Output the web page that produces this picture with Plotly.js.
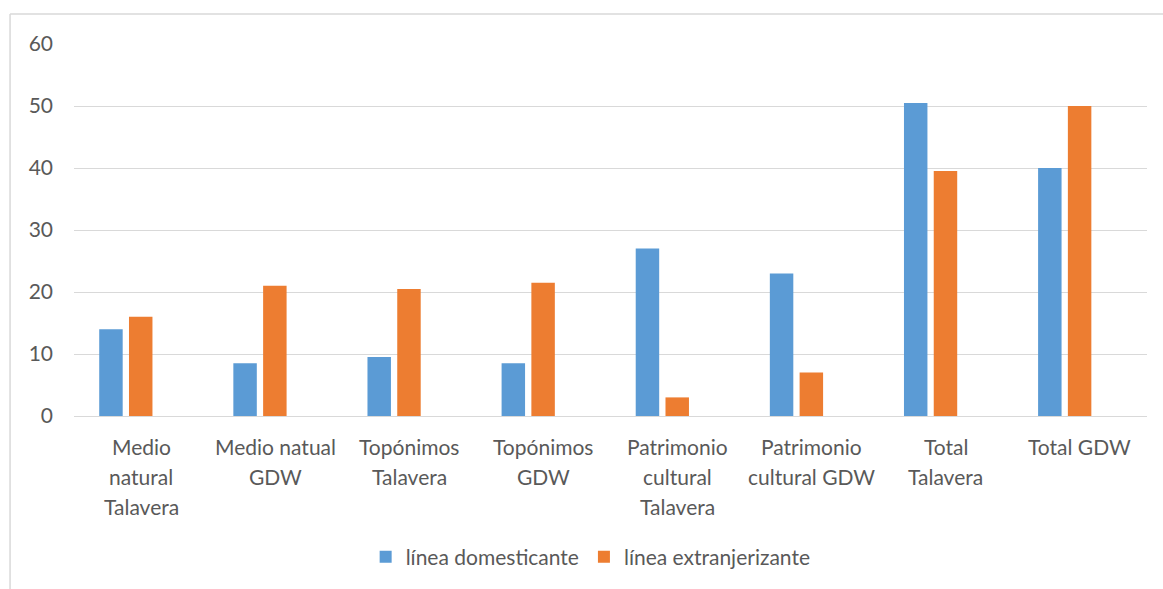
<!DOCTYPE html>
<html>
<head>
<meta charset="utf-8">
<script src="https://cdn.plot.ly/plotly-3.0.1.min.js"></script>
<style>html,body{margin:0;padding:0;background:#fff;}#chart{width:1163px;height:589px;}</style>
</head>
<body>
<div id="chart"></div>
<script>
// Categories (label lines as shown on the chart)
const categories = ["Medio natural Talavera", "Medio natual GDW", "Topónimos Talavera", "Topónimos GDW",
  "Patrimonio cultural Talavera", "Patrimonio cultural GDW", "Total Talavera", "Total GDW"];
const categoryLines = [
  ["Medio", "natural", "Talavera"],
  ["Medio natual", "GDW"],
  ["Topónimos", "Talavera"],
  ["Topónimos", "GDW"],
  ["Patrimonio", "cultural", "Talavera"],
  ["Patrimonio", "cultural GDW"],
  ["Total", "Talavera"],
  ["Total GDW"]
];
const seriesNames = ["línea domesticante", "línea extranjerizante"];
const domesticante = [14, 8.5, 9.5, 8.5, 27, 23, 50.5, 40];
const extranjerizante = [16, 21, 20.5, 21.5, 3, 7, 39.5, 50];
const yTicks = [0, 10, 20, 30, 40, 50, 60];

const FONT = "Lato, 'Open Sans', sans-serif";
const FS = 21;
const TXT = "#595959";

const traces = [
  {type: "bar", name: seriesNames[0], x: categories, y: domesticante,
   marker: {color: "#5b9bd5"}, width: 0.175, offset: -0.312, hoverinfo: "x+y"},
  {type: "bar", name: seriesNames[1], x: categories, y: extranjerizante,
   marker: {color: "#ed7d31"}, width: 0.175, offset: -0.09, hoverinfo: "x+y"}
];

const annotations = [];
categories.forEach((c, i) => {
  categoryLines[i].forEach((line, j) => {
    annotations.push({
      xref: "x", yref: "paper", x: c, y: 0, yanchor: "middle", xanchor: "center",
      yshift: -(30 + 30 * j), text: line, showarrow: false,
      font: {family: FONT, size: FS, color: TXT}
    });
  });
});

const layout = {
  width: 1163, height: 589,
  margin: {l: 74, r: 16, t: 44, b: 173},
  paper_bgcolor: "#ffffff", plot_bgcolor: "#ffffff",
  font: {family: FONT, size: FS, color: TXT},
  barmode: "group",
  showlegend: true,
  legend: {orientation: "h", x: 0.4815, xanchor: "center", y: -0.379, yanchor: "middle",
           itemwidth: 30,
           font: {family: FONT, size: FS, color: TXT}, bgcolor: "rgba(0,0,0,0)"},
  xaxis: {type: "category", showticklabels: false, ticks: "", showgrid: false,
          showline: true, linecolor: "#d9d9d9", linewidth: 1, zeroline: false,
          range: [-0.5, categories.length - 0.5], fixedrange: true},
  yaxis: {range: [0, 60], tickvals: yTicks, ticktext: yTicks.map(String), showgrid: true,
          gridcolor: "#d9d9d9", gridwidth: 1, zeroline: false, showline: false, ticks: "",
          ticklabelstandoff: 20, tickfont: {family: FONT, size: FS, color: TXT}, fixedrange: true},
  annotations: annotations,
  shapes: [
    {type: "line", xref: "paper", yref: "paper", x0: -0.0596, x1: 1.02, y0: 1.0806, y1: 1.0806,
     line: {color: "#d9d9d9", width: 1.5}},
    {type: "line", xref: "paper", yref: "paper", x0: -0.0596, x1: -0.0596, y0: 1.0806, y1: -0.47,
     line: {color: "#d9d9d9", width: 1.5}}
  ]
};

Plotly.newPlot("chart", traces, layout, {displayModeBar: false, staticPlot: true});
</script>
</body>
</html>
